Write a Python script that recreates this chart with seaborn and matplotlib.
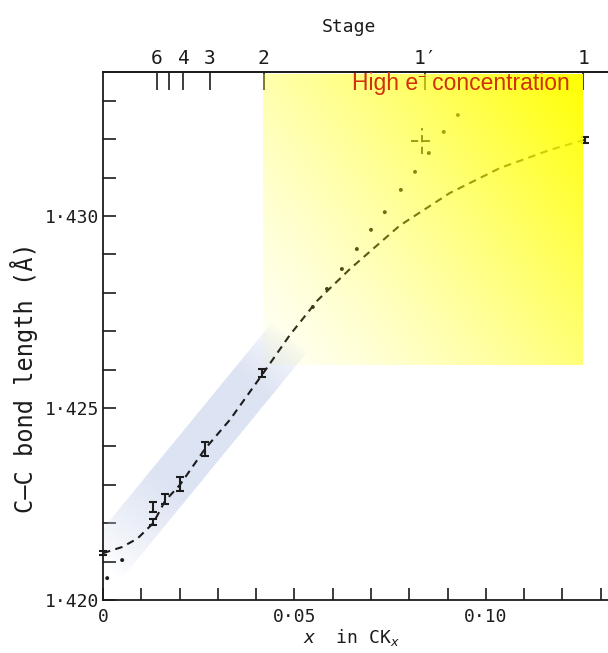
import numpy as np
import matplotlib
matplotlib.use("Agg")
import matplotlib.pyplot as plt
import seaborn as sns
from matplotlib.patches import Polygon

sns.set_theme(style="white")
plt.rcParams['font.family'] = ['DejaVu Sans Mono', 'DejaVu Sans']
plt.rcParams['mathtext.fontset'] = 'dejavusans'

# ---------------- data ----------------
fit_x = [0.0, 0.0050, 0.0090, 0.0131, 0.0162, 0.0201, 0.0266, 0.0332, 0.0418,
         0.0488, 0.0560, 0.0645, 0.0775, 0.0906, 0.1037, 0.1167, 0.1256]
fit_y = [1.42122, 1.42138, 1.42160, 1.42200, 1.42258, 1.42300, 1.42393, 1.42470, 1.42590,
         1.42690, 1.42780, 1.42862, 1.42975, 1.43060, 1.43125, 1.43172, 1.43198]

eb_x = [0.0, 0.0131, 0.0131, 0.0162, 0.0201, 0.0266, 0.0415, 0.1258]
eb_y = [1.42122, 1.42203, 1.42242, 1.42263, 1.42302, 1.42393, 1.42591, 1.43198]
eb_err = [0.00005, 0.00007, 0.00014, 0.00013, 0.00018, 0.00018, 0.00010, 0.00008]

dot_x = [0.0011, 0.0050, 0.0548, 0.0585, 0.0624, 0.0663, 0.0700, 0.0736,
         0.0778, 0.0815, 0.0851, 0.0890, 0.0927]
dot_y = [1.42057, 1.42104, 1.42763, 1.42810, 1.42862, 1.42914, 1.42964, 1.43010,
         1.43068, 1.43115, 1.43164, 1.43219, 1.43263]

cross_x = [0.0833]
cross_y = [1.43195]
cross_xerr = [0.0029]
cross_yerr = [0.00033]

stage_pos = [0.0140, 0.0172, 0.0210, 0.0279, 0.0420, 0.0841, 0.1255]
stage_lbl = ['6', '', '4', '3', '2', "1\u2032", '1']

x_ticks = [0.00, 0.01, 0.02, 0.03, 0.04, 0.05, 0.06, 0.07, 0.08, 0.09, 0.10, 0.11, 0.12, 0.13]
x_tick_lbl = ['0', '', '', '', '', '0\u00b705', '', '', '', '', '0\u00b710', '', '', '']
y_ticks = [1.420, 1.421, 1.422, 1.423, 1.424, 1.425, 1.426, 1.427, 1.428, 1.429,
           1.430, 1.431, 1.432, 1.433]
y_tick_lbl = ['1\u00b7420', '', '', '', '', '1\u00b7425', '', '', '', '',
              '1\u00b7430', '', '', '']

# highlighted regions
yellow_box = (0.0418, 0.1252, 1.42612, 1.43369)   # x0, x1, y0, y1
band_corners = [(-0.00465, 1.42129), (0.00465, 1.42053), (0.05347, 1.42647), (0.04418, 1.42723)]
XLIM = (0.0, 0.1319)
YLIM = (1.420, 1.43375)

ink = '#1c1c1c'

# ---------------- figure ----------------
fig = plt.figure(figsize=(6.08, 6.53), dpi=100)
rect = [103 / 608, 53 / 653, 505 / 608, 528 / 653]
ax = fig.add_axes(rect)

# blue band (gradient along the band)
bx = [c[0] for c in band_corners]
by = [c[1] for c in band_corners]
gx = np.linspace(min(bx), max(bx), 300)
gy = np.linspace(min(by), max(by), 300)
GX, GY = np.meshgrid(gx, gy)
sx, sy = (bx[0] + bx[1]) / 2 * 3830, (by[0] + by[1]) / 2 * 38400
ex, ey = (bx[2] + bx[3]) / 2 * 3830, (by[2] + by[3]) / 2 * 38400
dx, dy = ex - sx, ey - sy
t = ((GX * 3830 - sx) * dx + (GY * 38400 - sy) * dy) / (dx * dx + dy * dy)
a = np.clip(t / 0.35, 0, 1) ** 0.8 * np.clip((1.0 - t) / 0.2, 0, 1) ** 0.7 * 0.6
band_img = np.zeros((300, 300, 4))
band_img[..., 0] = 0.78
band_img[..., 1] = 0.82
band_img[..., 2] = 0.92
band_img[..., 3] = a
band_patch = Polygon(band_corners, closed=True, facecolor='none', edgecolor='none',
                     transform=ax.transData)
ax.add_patch(band_patch)
im_b = ax.imshow(band_img, extent=[gx[0], gx[-1], gy[0], gy[-1]], origin='lower',
                 aspect='auto', interpolation='bilinear', zorder=1)
im_b.set_clip_path(band_patch)

# dashed fitted curve
sns.lineplot(x=fit_x, y=fit_y, ax=ax, color=ink, lw=1.5, sort=False, zorder=2)
ax.lines[-1].set_dashes((3.6, 2.6))

# dots
sns.scatterplot(x=dot_x, y=dot_y, ax=ax, s=8, color=ink, edgecolor='none', zorder=2)

# error bars
ax.errorbar(eb_x, eb_y, yerr=eb_err, fmt='none', ecolor=ink, elinewidth=1.5,
            capsize=3.2, capthick=1.5, zorder=2.5, clip_on=False)

# crosshair
cr = ax.errorbar(cross_x, cross_y, xerr=cross_xerr, yerr=cross_yerr, fmt='none',
                 ecolor=ink, elinewidth=1.3, capsize=0, zorder=2.5)
for lc in cr.lines[2]:
    lc.set_linestyle((0, (4, 2.5)))

# axes styling
ax.set_xlim(*XLIM)
ax.set_ylim(*YLIM)
ax.set_facecolor('white')
for side in ['left', 'bottom', 'top']:
    ax.spines[side].set_visible(True)
    ax.spines[side].set_color(ink)
    ax.spines[side].set_linewidth(1.3)
ax.spines['right'].set_visible(False)

ax.set_xticks(x_ticks, x_tick_lbl)
ax.set_yticks(y_ticks, y_tick_lbl)
ax.tick_params(axis='both', direction='in', length=9, width=1.2, color=ink,
               labelsize=13, labelcolor=ink, bottom=True, left=True, top=False, right=False)
ax.tick_params(axis='x', pad=6)
ax.tick_params(axis='y', pad=3)

sec = ax.secondary_xaxis('top')
sec.set_xticks(stage_pos, stage_lbl)
sec.tick_params(direction='in', length=13, width=1.2, color=ink, labelsize=14,
                labelcolor=ink, pad=3)
sec.spines['top'].set_color(ink)
sec.spines['top'].set_linewidth(1.3)

# overlay axes: semi-transparent yellow gradient box and its caption
ov = fig.add_axes(rect)
ov.set_axis_off()
ov.patch.set_alpha(0)
nx, ny = 300, 300
XF, YF = np.meshgrid(np.linspace(0, 1, nx), np.linspace(0, 1, ny))
u = 0.6 * XF + 0.4 * YF
ya = 0.04 + 0.96 * u ** 1.3
yimg = np.zeros((ny, nx, 4))
yimg[..., 0] = 1.0
yimg[..., 1] = 1.0
yimg[..., 2] = 0.0
yimg[..., 3] = ya
ov.imshow(yimg, extent=[yellow_box[0], yellow_box[1], yellow_box[2], yellow_box[3]],
          origin='lower', aspect='auto', interpolation='bilinear', zorder=3)
ov.text(0.1219, 1.43328, 'High e\u207b concentration', color='#d0300c',
        family=['Liberation Sans', 'Noto Sans', 'DejaVu Sans'], fontsize=16.5, ha='right',
        va='baseline', zorder=4)
ov.set_xlim(*XLIM)
ov.set_ylim(*YLIM)

fig.text(349 / 608, 1 - 27 / 653, 'Stage', fontsize=13, color=ink, ha='center', va='center')
fig.text(351 / 608, 1 - 638 / 653, r'$\it{x}$  in CK$_{\it{x}}$', fontsize=13, color=ink,
         ha='center', va='center')
fig.text(24 / 608, 1 - 378 / 653, 'C\u2013C bond length (\u00c5)', fontsize=17, color=ink,
         rotation=90, ha='center', va='center')

fig.savefig('out.png', dpi=100, facecolor='white')
